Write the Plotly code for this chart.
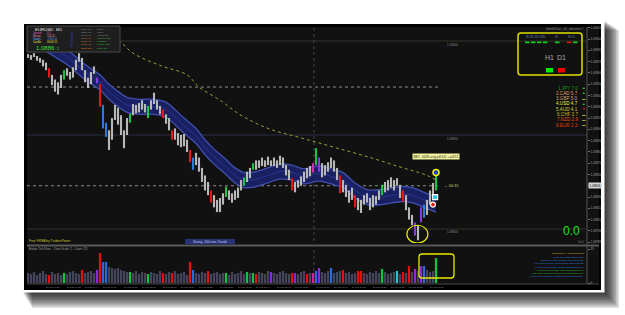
import plotly.graph_objects as go

# ---------------- data ----------------
bar_index = list(range(137))
bar_high = [1.08986,1.08985,1.08987,1.08984,1.08982,1.08980,1.08977,1.08971,1.08964,1.08959,
            1.08956,1.08964,1.08969,1.08971,1.08967,1.08972,1.08980,1.08987,1.08982,1.08969,
            1.08961,1.08967,1.08973,1.08961,1.08954,1.08932,1.08913,1.08905,1.08918,1.08932,
            1.08929,1.08921,1.08905,1.08918,1.08923,1.08933,1.08932,1.08934,1.08937,1.08933,
            1.08931,1.08937,1.08945,1.08937,1.08931,1.08927,1.08922,1.08918,1.08905,1.08907,
            1.08902,1.08900,1.08901,1.08895,1.08884,1.08876,1.08881,1.08876,1.08865,1.08857,
            1.08850,1.08841,1.08836,1.08831,1.08833,1.08838,1.08845,1.08841,1.08838,1.08841,
            1.08844,1.08852,1.08855,1.08861,1.08865,1.08870,1.08873,1.08873,1.08876,1.08873,
            1.08877,1.08873,1.08876,1.08873,1.08878,1.08876,1.08868,1.08863,1.08854,1.08850,
            1.08852,1.08856,1.08861,1.08865,1.08867,1.08870,1.08886,1.08876,1.08870,1.08868,
            1.08871,1.08876,1.08873,1.08865,1.08857,1.08852,1.08847,1.08841,1.08844,1.08836,
            1.08833,1.08831,1.08836,1.08838,1.08833,1.08836,1.08835,1.08841,1.08847,1.08850,
            1.08852,1.08855,1.08852,1.08854,1.08847,1.08841,1.08836,1.08823,1.08815,1.08807,
            1.08804,1.08823,1.08826,1.08831,1.08841,1.08849,1.08860]
bar_low = [1.08982,1.08980,1.08983,1.08979,1.08977,1.08973,1.08969,1.08961,1.08953,1.08946,
           1.08943,1.08950,1.08959,1.08963,1.08959,1.08961,1.08969,1.08978,1.08969,1.08956,
           1.08950,1.08954,1.08965,1.08955,1.08930,1.08907,1.08898,1.08884,1.08895,1.08916,
           1.08911,1.08900,1.08886,1.08900,1.08913,1.08921,1.08923,1.08924,1.08927,1.08924,
           1.08918,1.08927,1.08933,1.08927,1.08922,1.08918,1.08912,1.08905,1.08895,1.08895,
           1.08889,1.08887,1.08888,1.08882,1.08871,1.08863,1.08868,1.08861,1.08850,1.08841,
           1.08836,1.08828,1.08823,1.08818,1.08818,1.08826,1.08834,1.08831,1.08828,1.08831,
           1.08833,1.08841,1.08846,1.08850,1.08854,1.08863,1.08863,1.08865,1.08867,1.08866,
           1.08868,1.08867,1.08867,1.08865,1.08868,1.08865,1.08857,1.08852,1.08841,1.08839,
           1.08844,1.08846,1.08850,1.08854,1.08856,1.08860,1.08868,1.08861,1.08855,1.08857,
           1.08861,1.08865,1.08861,1.08852,1.08838,1.08839,1.08834,1.08828,1.08831,1.08823,
           1.08820,1.08817,1.08826,1.08828,1.08820,1.08823,1.08826,1.08831,1.08836,1.08839,
           1.08841,1.08844,1.08841,1.08846,1.08833,1.08829,1.08820,1.08810,1.08804,1.08793,
           1.08788,1.08807,1.08812,1.08815,1.08826,1.08831,1.08841]
candle_red = [7, 24, 45, 48, 54, 61, 88, 104, 109, 125]
candle_green = [12, 34, 40, 66, 72, 75, 96, 118, 136]
candle_blue = [25, 26, 55, 132]
candle_purple = [23, 97, 129, 131]
candle_magenta = [95]

tick_volume = [10,9,11,8,10,12,9,8,11,9,
               10,8,10,9,11,12,10,9,13,10,
               11,12,10,13,30,21,21,16,15,14,
               15,13,12,11,11,10,12,9,11,10,
               9,11,10,9,12,10,9,11,10,12,
               9,10,11,8,21,13,10,9,11,10,
               12,9,10,11,9,10,10,8,11,9,
               10,12,9,11,10,10,9,11,10,9,
               12,11,10,9,11,12,10,9,10,10,
               9,11,12,9,10,10,12,15,11,10,
               12,15,10,11,12,13,10,11,9,10,
               12,12,10,9,11,10,12,10,14,11,
               9,10,11,12,9,11,10,17,11,14,
               12,17,17,13,11,12,25]
vol_red = [7, 18, 24, 45, 48, 54, 60, 76, 88, 93, 105, 110, 111, 125, 127]
vol_green = [12, 34, 40, 66, 73, 75, 118, 136]
vol_blue = [25, 26, 55, 96, 101, 132]
vol_purple = [23, 81, 89, 97, 129, 131]
vol_magenta = [95]
vol_cyan = [123]

band_x = [0,6,10,13,19,24,27,31,33,37,42,46,49,52,56,59,62,66,69,72,76,79,84,88,92,97,102,105,109,113,118,124,128,132,136]
band_upper = [1.09013,1.09005,1.08997,1.08991,1.08975,1.08964,1.08954,1.08944,1.08940,1.08938,1.08938,1.08935,
              1.08927,1.08918,1.08907,1.08895,1.08885,1.08874,1.08865,1.08860,1.08861,1.08864,1.08869,1.08868,
              1.08864,1.08867,1.08863,1.08860,1.08849,1.08842,1.08842,1.08845,1.08844,1.08839,1.08834]
band_mid = [1.09005,1.08997,1.08989,1.08983,1.08967,1.08956,1.08946,1.08936,1.08932,1.08930,1.08930,1.08927,
            1.08919,1.08910,1.08899,1.08887,1.08877,1.08866,1.08857,1.08852,1.08853,1.08856,1.08861,1.08860,
            1.08856,1.08859,1.08855,1.08852,1.08841,1.08834,1.08834,1.08837,1.08836,1.08831,1.08826]
band_lower = [1.08997,1.08989,1.08981,1.08975,1.08959,1.08948,1.08938,1.08928,1.08924,1.08922,1.08922,1.08919,
              1.08911,1.08902,1.08891,1.08879,1.08869,1.08858,1.08849,1.08844,1.08845,1.08848,1.08853,1.08852,
              1.08848,1.08851,1.08847,1.08844,1.08833,1.08826,1.08826,1.08829,1.08828,1.08823,1.08818]

ma_x = [28,31,35,44,53,57,64,71,80,91,102,113,124,133,136]
ma_y = [1.09001,1.08998,1.08987,1.08974,1.08964,1.08951,1.08937,1.08921,1.08907,1.08897,1.08887,1.08877,1.08866,1.08857,1.08852]

round_levels = [1.09000, 1.08900, 1.08800]
round_level_labels = ["1.09000", "1.08900", "1.08800"]
dotted_levels = [1.08951, 1.08846]
axis_price_mark = 1.08846
separator_index = 95.3

signal_x = [136.0, 135.7, 135.0]
signal_y = [1.08860, 1.08834, 1.08826]
low_circle_x = [126.3, 133.3]
low_circle_y = [1.08785, 1.08804]

date_tick_index = [0,6,13,19,25,32,38,45,51,57,64,70,76,83,89,96,102,108,115,121,127,134]
date_tick_text = ["29 Feb 14:25","29 Feb 14:31","29 Feb 14:38","29 Feb 14:44","29 Feb 14:50","29 Feb 14:57",
                  "29 Feb 15:03","29 Feb 15:10","29 Feb 15:16","29 Feb 15:22","29 Feb 15:29","29 Feb 15:35",
                  "29 Feb 15:41","29 Feb 15:48","29 Feb 15:54","29 Feb 16:01","29 Feb 16:07","29 Feb 16:13",
                  "29 Feb 16:20","29 Feb 16:26","29 Feb 16:32","29 Feb 16:39"]

currency_names = ["1.JPY", "2.CAD", "3.GBP", "4.USD", "5.AUD", "6.CHF", "7.NZD", "8.EUR"]
currency_values = [7.0, 5.7, 5.0, 4.7, 4.1, 3.7, 2.9, 2.3]
currency_trend = ["up", "up", "flat", "up", "down", "flat", "flat", "flat"]
currency_colors = ["#1c9a1c", "#e0a070", "#d0a070", "#f0f040", "#d8d040", "#c8b830", "#e05020", "#e04010"]

session_times = ["01:00 AM", "03:00 AM", "04:00 AM", "09:00 AM", "09:00 AM", "10:00 AM", "03:00 PM"]
session_names = ["Sydney", "Tokyo", "HongKong", "Moscow (2h)", "Frankfurt", "London (2h)", "New York"]
info_labels = ["Spread", "Range", "Swaps", "Candle"]
info_values = ["0.5", "156.25", "-7.6/-1.4", "00:00:15"]
last_price_text = "1.0886"
news_title = "NEWSNOW (Alarm Scheduled)"
news_lines = ["1 mins since USD: Change MSG",
              "22 mins until USD: Pending Home Sales(m/m)",
              "1 hr 6 mins until USD: FOMC Member Dudley Speaks",
              "9 hrs 27 mins until EUR: Spanish Manufacturing PMI",
              "9 hrs 27 mins until EUR: Italian Manufacturing PMI",
              "9 hrs 2 mins until EUR: French Final Manufacturing PMI",
              "9 hrs 57 mins until EUR: German Unemployment Change"]
news_colors = ["#3a8ae0", "#3a8ae0", "#3a8ae0", "#3a8ae0", "#30c030", "#30c030", "#3a8ae0"]

# ---------------- geometry helpers (pixel -> paper) ----------------
FONT = "Liberation Sans"
PL, PR, PT, PB = 27, 587, 27, 283


def fx(x):
    return (x - PL) / (PR - PL)


def fy(y):
    return (PB - y) / (PB - PT)


shapes = []
annotations = []


def rect(x0, y0, x1, y1, fill, line=None, lw=0, layer="below", opacity=1.0):
    shapes.append(dict(type="rect", xref="paper", yref="paper",
                       x0=fx(x0), x1=fx(x1), y0=fy(y1), y1=fy(y0),
                       fillcolor=fill, opacity=opacity,
                       line=dict(color=line or "rgba(0,0,0,0)", width=lw), layer=layer))


def hline_px(x0, x1, y, color, width=1, dash="solid", layer="below"):
    shapes.append(dict(type="line", xref="paper", yref="paper", x0=fx(x0), x1=fx(x1),
                       y0=fy(y), y1=fy(y), line=dict(color=color, width=width, dash=dash), layer=layer))


def vline_px(x, y0, y1, color, width=1, dash="solid", layer="below"):
    shapes.append(dict(type="line", xref="paper", yref="paper", x0=fx(x), x1=fx(x),
                       y0=fy(y0), y1=fy(y1), line=dict(color=color, width=width, dash=dash), layer=layer))


def rrect(x0, y0, x1, y1, r, color, width, fill="rgba(0,0,0,0)"):
    rx = r / (PR - PL)
    ry = r / (PB - PT)
    X0, X1 = fx(x0), fx(x1)
    Y0, Y1 = fy(y1), fy(y0)
    path = (f"M{X0+rx},{Y0} L{X1-rx},{Y0} Q{X1},{Y0} {X1},{Y0+ry} L{X1},{Y1-ry} "
            f"Q{X1},{Y1} {X1-rx},{Y1} L{X0+rx},{Y1} Q{X0},{Y1} {X0},{Y1-ry} "
            f"L{X0},{Y0+ry} Q{X0},{Y0} {X0+rx},{Y0} Z")
    shapes.append(dict(type="path", xref="paper", yref="paper", path=path,
                       line=dict(color=color, width=width), fillcolor=fill, layer="above"))


def txt(s, x, y, size, color, xa="left", ya="middle", **kw):
    annotations.append(dict(text=s, x=fx(x), y=fy(y), xref="paper", yref="paper",
                            xanchor=xa, yanchor=ya, showarrow=False, borderpad=0,
                            font=dict(size=size, color=color, family=FONT), **kw))


# ---------------- frame, shadow, background ----------------
for k in range(1, 11):
    rect(22 + k, 20 + k, 604 + 1.5 * k, 292 + 1.6 * k, "black", opacity=0.13)
rect(19, 19, 604.5, 292.5, "white")
rect(24, 24, 601, 290, "#000000")
rect(27, 27, 599, 284, "#111111")

# panel lines
hline_px(27, 599, 245.5, "#5a5a5a", 2)
hline_px(27, 599, 284, "#4a4a4a", 1)
vline_px(587, 27, 284, "#555555", 1)

# round price levels
for lv in round_levels:
    shapes.append(dict(type="line", xref="paper", yref="y", x0=0, x1=1, y0=lv, y1=lv,
                       line=dict(color="#34342a" if lv != 1.08900 else "#2a2e46", width=1), layer="below"))
for lv, lab in zip(round_levels, round_level_labels):
    annotations.append(dict(text=lab, x=141.5, y=lv, xref="x", yref="y", xanchor="center", yanchor="top",
                            showarrow=False, borderpad=0, yshift=-0.5,
                            font=dict(size=3, color="#8a8a8a", family=FONT)))
for lv in dotted_levels:
    shapes.append(dict(type="line", xref="x", yref="y", x0=-0.33, x1=136.7, y0=lv, y1=lv,
                       line=dict(color="#8c8c8c", width=1, dash="dot"), layer="below"))
shapes.append(dict(type="line", xref="x", yref="paper", x0=separator_index, x1=separator_index,
                   y0=0, y1=1, line=dict(color="#444444", width=1, dash="dot"), layer="below"))

# ---------------- traces ----------------
fig = go.Figure()

fig.add_trace(go.Scatter(x=band_x, y=band_lower, mode="lines", xaxis="x", yaxis="y",
                         line=dict(color="#4050b0", width=1.3, shape="spline"), hoverinfo="skip"))
fig.add_trace(go.Scatter(x=band_x, y=band_upper, mode="lines", xaxis="x", yaxis="y", fill="tonexty",
                         fillcolor="#1a2162", line=dict(color="#4050b0", width=1.3, shape="spline"),
                         hoverinfo="skip"))
fig.add_trace(go.Scatter(x=band_x, y=band_mid, mode="lines", xaxis="x", yaxis="y",
                         line=dict(color="#2c3894", width=0.8, shape="spline"), hoverinfo="skip"))
fig.add_trace(go.Scatter(x=ma_x, y=ma_y, mode="lines", xaxis="x", yaxis="y",
                         line=dict(color="#9c9c38", width=1, dash="dot", shape="spline"), hoverinfo="skip"))

special = set(candle_red + candle_green + candle_blue + candle_purple + candle_magenta)
groups = [([i for i in bar_index if i not in special], "#b8b8b8"),
          (candle_red, "#e41818"), (candle_green, "#18c44a"), (candle_blue, "#2a7ae4"),
          (candle_purple, "#8a3ae4"), (candle_magenta, "#d030b0")]
for idx, col in groups:
    xs, ys = [], []
    for i in idx:
        xs += [i, i, None]
        ys += [bar_low[i], bar_high[i], None]
    fig.add_trace(go.Scatter(x=xs, y=ys, mode="lines", xaxis="x", yaxis="y",
                             line=dict(color=col, width=2.1), hoverinfo="skip"))

fig.add_trace(go.Scatter(x=[signal_x[0]], y=[signal_y[0]], mode="markers", xaxis="x", yaxis="y",
                         marker=dict(symbol="circle", size=6, color="#2040c8",
                                     line=dict(color="#f0f000", width=1.5)), hoverinfo="skip"))
fig.add_trace(go.Scatter(x=[signal_x[1]], y=[signal_y[1]], mode="markers", xaxis="x", yaxis="y",
                         marker=dict(symbol="square", size=5, color="#30c0e0",
                                     line=dict(color="#ffffff", width=1.2)), hoverinfo="skip"))
fig.add_trace(go.Scatter(x=[signal_x[2]], y=[signal_y[2]], mode="markers", xaxis="x", yaxis="y",
                         marker=dict(symbol="circle", size=5, color="#e02020",
                                     line=dict(color="#ffffff", width=1.2)), hoverinfo="skip"))

vol_map = {}
for lst, col in [(vol_red, "#e41010"), (vol_green, "#12c444"), (vol_blue, "#2a6ae0"),
                 (vol_purple, "#8a2ae0"), (vol_magenta, "#d020a8"), (vol_cyan, "#20c8c8")]:
    for i in lst:
        vol_map[i] = col
vol_colors = [vol_map.get(i, "#44445c") for i in bar_index]
fig.add_trace(go.Bar(x=bar_index, y=tick_volume, xaxis="x2", yaxis="y2", width=0.75,
                     marker=dict(color=vol_colors, line=dict(width=0)), hoverinfo="skip"))

# data-linked decorations
shapes.append(dict(type="circle", xref="x", yref="y", x0=low_circle_x[0], x1=low_circle_x[1],
                   y0=low_circle_y[0], y1=low_circle_y[1], line=dict(color="#e8e800", width=1.2), layer="above"))
rrect(419, 254, 454, 278, 3, "#e8e800", 1.3)

# current price label on axis
annotations.append(dict(text=f"{axis_price_mark:.5f}", x=fx(588), y=axis_price_mark, xref="paper", yref="y",
                        xanchor="left", yanchor="middle", showarrow=False, borderpad=0.5,
                        bgcolor="#d8d8d8", font=dict(size=3, color="#000000", family=FONT)))

# ---------------- top-left info box ----------------
rect(27, 26, 120, 52, "#1e1e1e", line="#4a4a4a", lw=1, layer="above")
txt("EURUSD  M1", 34, 29.5, 4.4, "#e8e8e8")
info_cols = ["#e060d0", "#e090b0", "#70b0ff", "#e8e040"]
for k, (lab, val) in enumerate(zip(info_labels, info_values)):
    txt(lab, 32, 33.3 + 3 * k, 2.6, info_cols[k])
    txt(val, 46, 33.3 + 3 * k, 2.6, info_cols[k])
txt(last_price_text, 35, 48, 6, "#38e038")
txt("2", 56, 48.8, 3.5, "#38e038")
txt("FX Sessions", 72, 39, 2.8, "#3848d8", xa="center", textangle=-90)
for k, (tm, nm) in enumerate(zip(session_times, session_names)):
    yy = 29.3 + 3 * k + (1 if k == 6 else 0)
    txt(tm, 80, yy, 2.4, "#a0a0a0" if k < 3 else "#e08a30")
    txt(nm, 96, yy, 2.4, "#909090" if k < 3 else "#40c040")

# ---------------- top-right panel ----------------
txt("IndelibChart_v14_Indicators \u00a9", 586, 28.5, 2.8, "#909090", xa="right")
rrect(518, 33, 582, 75, 3, "#e0e000", 1.5)
txt("M1 M5 M15 M30", 536, 36.5, 2.6, "#6a7ab0", xa="center")
txt("H1", 557, 36.5, 2.6, "#6a7ab0", xa="center")
txt("H4 D1", 572, 36.5, 2.6, "#6a7ab0", xa="center")
for x0, col in [(525, "#10d020"), (531, "#10d020"), (537, "#10d020"), (543, "#10d020"),
                (555, "#10d020"), (567, "#e01010"), (573, "#10d020")]:
    rect(x0, 41.5, x0 + 4.5, 43.2, col, layer="above")
txt("H1", 549.5, 57, 7, "#a8a8a8", xa="center")
txt("D1", 561.5, 57, 7, "#a8a8a8", xa="center")
rect(546, 68, 553, 72.5, "#00ee00", layer="above")
rect(558, 68, 565, 72.5, "#ee0000", layer="above")

# currency strength list
arrow = {"up": ("\u25b2", "#20e020"), "down": ("\u25bc", "#e82020"), "flat": ("\u25ac", "#a0a030")}
for k, (nm, v, tr, col) in enumerate(zip(currency_names, currency_values, currency_trend, currency_colors)):
    yy = 88 + 5.3 * k
    txt(f"{nm} {v:.1f}", 579, yy, 4.6, col, xa="right")
    a, ac = arrow[tr]
    txt(a, 583.5, yy, 3.6, ac, xa="center")

# ---------------- in-chart texts ----------------
annotations.append(dict(text="BE1: 0435 avg p4/1/0 + p4/11", x=136, y=1.08877, xref="x", yref="y",
                        xanchor="center", yanchor="middle", showarrow=False, borderpad=0.6,
                        bgcolor="#f2f2a0", font=dict(size=3.4, color="#303020", family=FONT)))
annotations.append(dict(text="\u2190 00:15", x=138.2, y=dotted_levels[1], xref="x", yref="y",
                        xanchor="left", yanchor="middle", showarrow=False, borderpad=0,
                        font=dict(size=3.8, color="#d8d870", family=FONT)))
txt("0.0", 571.5, 230.5, 12, "#22e022", xa="center")
txt("Cnt 2", 586, 242, 2.6, "#909090", xa="right")
txt("Free FiREA by TradersPower", 27.5, 241.3, 3.2, "#c8c840")
rect(185, 239, 235, 244.5, "#283275", layer="above")
txt("Strong, 200 ema Trends", 210, 241.8, 3.2, "#c8c8e0", xa="center")
txt("Broker Tick Flow .  Chart Scale: 2,  Count: 2/5", 28, 249, 2.9, "#a0a0a0")
txt(news_title, 585, 253, 2.3, "#d8b020", xa="right")
for k, (ln, col) in enumerate(zip(news_lines, news_colors)):
    txt(ln, 585, 256.6 + 3.3 * k, 2.1, col, xa="right")

# date labels
for ix, lab in zip(date_tick_index, date_tick_text):
    annotations.append(dict(text=lab, x=ix - 0.35, y=fy(286.8), xref="x2", yref="paper",
                            xanchor="left", yanchor="middle", showarrow=False, borderpad=0,
                            font=dict(size=2.3, color="#9a9a9a", family=FONT)))

# ---------------- layout ----------------
xr = [-0.333, 186.333]
fig.update_layout(
    width=625, height=315, autosize=False,
    margin=dict(l=PL, r=625 - PR, t=PT, b=315 - PB, pad=0),
    paper_bgcolor="white", plot_bgcolor="rgba(0,0,0,0)",
    showlegend=False,
    xaxis=dict(domain=[0, 1], range=xr, visible=False, anchor="y", fixedrange=True),
    yaxis=dict(domain=[(PB - 243) / (PB - PT), 1], range=[1.087851, 1.090149], side="right", anchor="x",
               tickmode="linear", tick0=1.08798, dtick=0.00012, tickformat=".5f",
               tickfont=dict(size=3, color="#a0a0a0", family=FONT), ticks="outside", ticklen=2,
               tickcolor="#707070", showgrid=False, zeroline=False, showline=False, automargin=False),
    xaxis2=dict(domain=[0, 1], range=xr, visible=False, anchor="y2", fixedrange=True),
    yaxis2=dict(domain=[0, 36 / (PB - PT)], range=[0, 36], side="right", anchor="x2",
                tickvals=[0, 34], ticktext=["0", "35"], tickfont=dict(size=3, color="#a0a0a0", family=FONT),
                ticks="outside", ticklen=2, tickcolor="#707070",
                showgrid=False, zeroline=False, showline=False, automargin=False),
    shapes=shapes, annotations=annotations,
)

fig.write_html("out.html", config={"displayModeBar": False})
